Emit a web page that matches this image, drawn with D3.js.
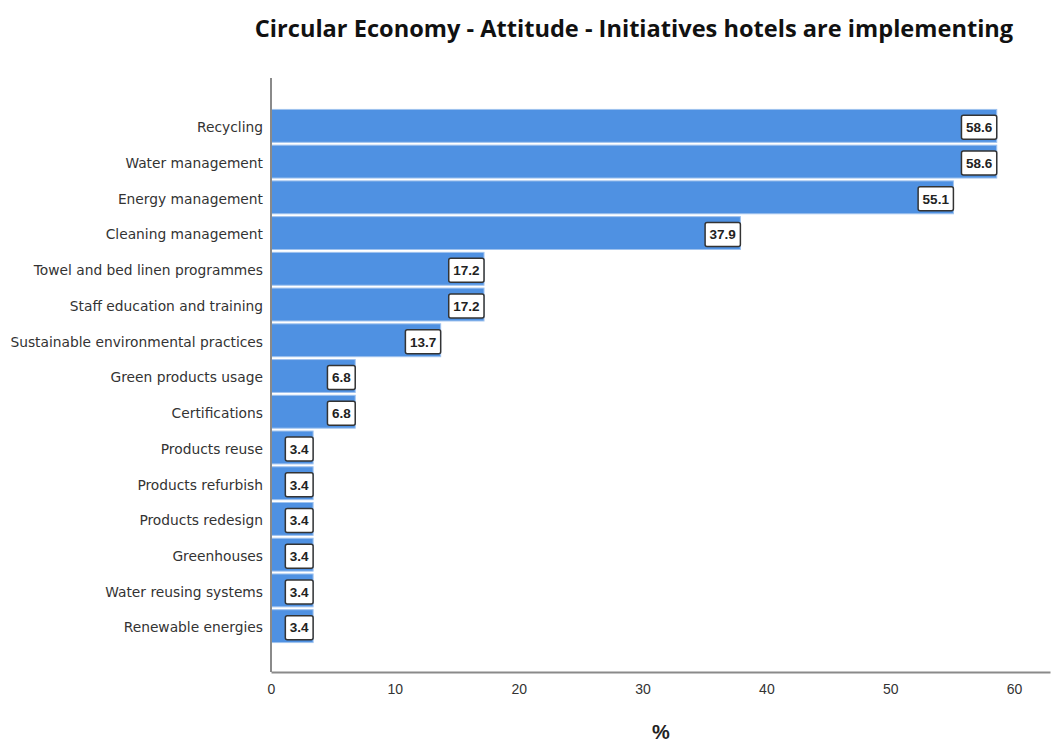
<!DOCTYPE html>
<html>
<head>
<meta charset="utf-8">
<script src="https://cdn.jsdelivr.net/npm/d3@7"></script>
<style>
  html, body { margin: 0; padding: 0; background: #fff; }
  svg { display: block; }
</style>
</head>
<body>
<svg id="chart" width="1052" height="743"></svg>
<script>
// Initiatives and the share of hotels implementing them (%)
const categories = [
  "Recycling",
  "Water management",
  "Energy management",
  "Cleaning management",
  "Towel and bed linen programmes",
  "Staff education and training",
  "Sustainable environmental practices",
  "Green products usage",
  "Certifications",
  "Products reuse",
  "Products refurbish",
  "Products redesign",
  "Greenhouses",
  "Water reusing systems",
  "Renewable energies"
];
const values = [58.6, 58.6, 55.1, 37.9, 17.2, 17.2, 13.7, 6.8, 6.8, 3.4, 3.4, 3.4, 3.4, 3.4, 3.4];
const xTicks = [0, 10, 20, 30, 40, 50, 60];

const titleText = "Circular Economy - Attitude - Initiatives hotels are implementing";
const xAxisTitle = "%";

const svg = d3.select("#chart");

const x = d3.scaleLinear().domain([0, 62.9]).range([271, 1050]);
const y = d3.scaleBand().domain(categories).range([108, 644]).paddingInner(0.08).paddingOuter(0.04);

// Title
svg.append("text")
  .attr("x", 634).attr("y", 37)
  .attr("text-anchor", "middle")
  .attr("font-family", "'Open Sans', 'Liberation Sans', sans-serif")
  .attr("font-weight", "bold")
  .attr("font-size", 23.6)
  .attr("fill", "#111")
  .text(titleText);

// Bars
svg.append("g").selectAll("rect")
  .data(categories)
  .join("rect")
  .attr("x", x(0))
  .attr("y", d => y(d))
  .attr("width", (d, i) => x(values[i]) - x(0))
  .attr("height", y.bandwidth())
  .attr("fill", "#4f91e2")
  .attr("stroke", "#9fc2ee")
  .attr("stroke-width", 1);

// Axes frame
svg.append("line")
  .attr("x1", 271).attr("x2", 271).attr("y1", 78).attr("y2", 672)
  .attr("stroke", "#8a8a8a").attr("stroke-width", 2);

const xAxis = svg.append("g")
  .attr("transform", "translate(0,672)")
  .call(d3.axisBottom(x).tickValues(xTicks).tickSize(0).tickPadding(12));
xAxis.select(".domain").attr("stroke", "#8a8a8a").attr("stroke-width", 2);
xAxis.selectAll("text")
  .attr("font-family", "'Liberation Sans', Arial, sans-serif")
  .attr("font-size", 14)
  .attr("fill", "#333");

// Category labels
svg.append("g").selectAll("text")
  .data(categories)
  .join("text")
  .attr("x", 263)
  .attr("y", d => y(d) + y.bandwidth() / 2 + 1.5)
  .attr("dy", "0.35em")
  .attr("text-anchor", "end")
  .attr("font-family", "'DejaVu Sans', Verdana, sans-serif")
  .attr("font-size", 13.8)
  .attr("fill", "#333")
  .text(d => d);

// Value labels in boxed callouts at bar ends
const lbl = svg.append("g").selectAll("g")
  .data(categories)
  .join("g");
lbl.each(function(d, i) {
  const g = d3.select(this);
  const t = g.append("text")
    .attr("font-family", "'Liberation Sans', Arial, sans-serif")
    .attr("font-weight", "bold")
    .attr("font-size", 13.5)
    .attr("fill", "#222")
    .attr("text-anchor", "middle")
    .text(values[i].toFixed(1));
  const w = t.node().getComputedTextLength() + 9;
  const h = 24;
  const xr = x(values[i]);
  const cy = y(d) + y.bandwidth() / 2 + 1.5;
  g.insert("rect", "text")
    .attr("x", xr - w).attr("y", cy - h / 2)
    .attr("width", w).attr("height", h)
    .attr("rx", 2)
    .attr("fill", "#fff")
    .attr("stroke", "#333")
    .attr("stroke-width", 1.5);
  t.attr("x", xr - w / 2).attr("y", cy).attr("dy", "0.36em");
});

// X axis title
svg.append("text")
  .attr("x", 661).attr("y", 739)
  .attr("text-anchor", "middle")
  .attr("font-family", "'Liberation Sans', Arial, sans-serif")
  .attr("font-weight", "bold")
  .attr("font-size", 20)
  .attr("fill", "#222")
  .text(xAxisTitle);
</script>
</body>
</html>
